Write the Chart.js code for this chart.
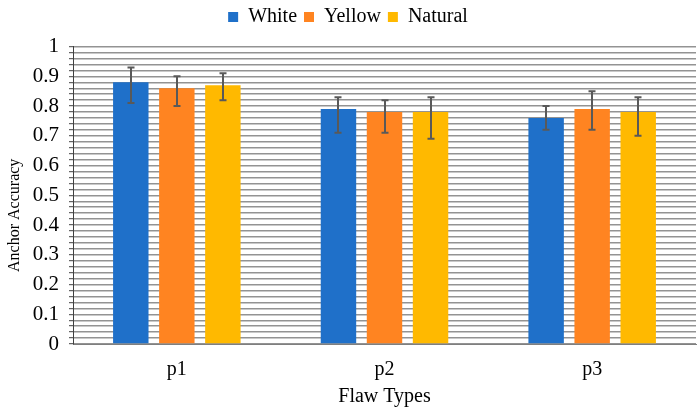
<!DOCTYPE html>
<html>
<head>
<meta charset="utf-8">
<script src="https://cdn.jsdelivr.net/npm/chart.js@4/dist/chart.umd.min.js"></script>
<style>
  html, body { margin: 0; padding: 0; background: #fff; }
  #wrap { width: 700px; height: 410px; }
</style>
</head>
<body>
<div id="wrap"><canvas id="c" width="700" height="410"></canvas></div>
<script>
const categories = ['p1', 'p2', 'p3'];
const seriesNames = ['White', 'Yellow', 'Natural'];
const whiteVals = [0.88, 0.79, 0.76];
const yellowVals = [0.86, 0.78, 0.79];
const naturalVals = [0.87, 0.78, 0.78];
const whiteLow = [0.81, 0.71, 0.72];
const whiteHigh = [0.93, 0.83, 0.80];
const yellowLow = [0.80, 0.71, 0.72];
const yellowHigh = [0.90, 0.82, 0.85];
const naturalLow = [0.82, 0.69, 0.70];
const naturalHigh = [0.91, 0.83, 0.83];
const colors = ['#1f70c9', '#ff8421', '#ffb900'];
const yTitle = 'Anchor Accuracy';
const xTitle = 'Flaw Types';

const FONT = "'Liberation Serif', 'Times New Roman', serif";

const errorBars = {
  id: 'errorBars',
  afterDatasetsDraw(chart) {
    const ctx = chart.ctx;
    const y = chart.scales.y;
    chart.data.datasets.forEach((ds, i) => {
      const meta = chart.getDatasetMeta(i);
      meta.data.forEach((bar, j) => {
        const x = Math.round(bar.x);
        const yl = y.getPixelForValue(ds.errLow[j]);
        const yh = y.getPixelForValue(ds.errHigh[j]);
        ctx.save();
        ctx.strokeStyle = '#595959';
        ctx.lineWidth = 2;
        ctx.beginPath();
        ctx.moveTo(x, yl); ctx.lineTo(x, yh);
        ctx.moveTo(x - 3.5, yl); ctx.lineTo(x + 3.5, yl);
        ctx.moveTo(x - 3.5, yh); ctx.lineTo(x + 3.5, yh);
        ctx.stroke();
        ctx.restore();
      });
    });
  }
};

const yTitlePlugin = {
  id: 'yTitlePlugin',
  afterDraw(chart) {
    const ctx = chart.ctx;
    const a = chart.chartArea;
    ctx.save();
    ctx.translate(15, (a.top + a.bottom) / 2 + 20);
    ctx.rotate(-Math.PI / 2);
    ctx.font = "16px " + FONT;
    ctx.fillStyle = '#000';
    ctx.textAlign = 'center';
    ctx.textBaseline = 'middle';
    ctx.fillText(yTitle, 0, 0);
    ctx.restore();
  }
};

new Chart(document.getElementById('c'), {
  type: 'bar',
  data: {
    labels: categories,
    datasets: [
      { label: seriesNames[0], data: whiteVals, errLow: whiteLow, errHigh: whiteHigh, backgroundColor: colors[0] },
      { label: seriesNames[1], data: yellowVals, errLow: yellowLow, errHigh: yellowHigh, backgroundColor: colors[1] },
      { label: seriesNames[2], data: naturalVals, errLow: naturalLow, errHigh: naturalHigh, backgroundColor: colors[2] }
    ]
  },
  options: {
    responsive: false,
    animation: false,
    devicePixelRatio: 1,
    categoryPercentage: 0.665,
    barPercentage: 0.77,
    layout: { padding: { left: 0, right: 4, top: 0, bottom: 0 } },
    plugins: {
      legend: {
        position: 'top',
        labels: {
          font: { family: FONT, size: 20 },
          color: '#000',
          boxWidth: 10,
          boxHeight: 10,
          padding: 7
        }
      },
      subtitle: {
        display: true,
        text: ' ',
        weight: 500,
        position: 'top',
        font: { size: 8 },
        padding: { top: 0, bottom: 0 }
      },
      tooltip: { enabled: false }
    },
    scales: {
      x: {
        afterFit(scale) { scale.height = 66; },
        grid: { display: false, drawTicks: false },
        border: { display: true, color: '#7f7f7f', width: 1 },
        ticks: { font: { family: FONT, size: 20 }, color: '#000', padding: 14 },
        title: { display: true, text: xTitle, font: { family: FONT, size: 20 }, color: '#000', padding: { top: 0, bottom: 1 } }
      },
      y: {
        min: 0,
        max: 1,
        afterFit(scale) { scale.width = 73; },
        grid: { color: '#939393', lineWidth: 1.4, tickLength: 4, drawTicks: true, tickColor: '#404040', tickWidth: 1 },
        border: { display: true, color: '#404040', width: 1 },
        ticks: {
          stepSize: 0.02,
          autoSkip: false,
          font: { family: FONT, size: 21 },
          color: '#000',
          padding: 10,
          callback(v) {
            const k = Math.round(v * 50);
            if (k % 5 !== 0) return '';
            return String(Math.round(v * 10) / 10);
          }
        },
        title: { display: false }
      }
    }
  },
  plugins: [errorBars, yTitlePlugin]
});
</script>
</body>
</html>
